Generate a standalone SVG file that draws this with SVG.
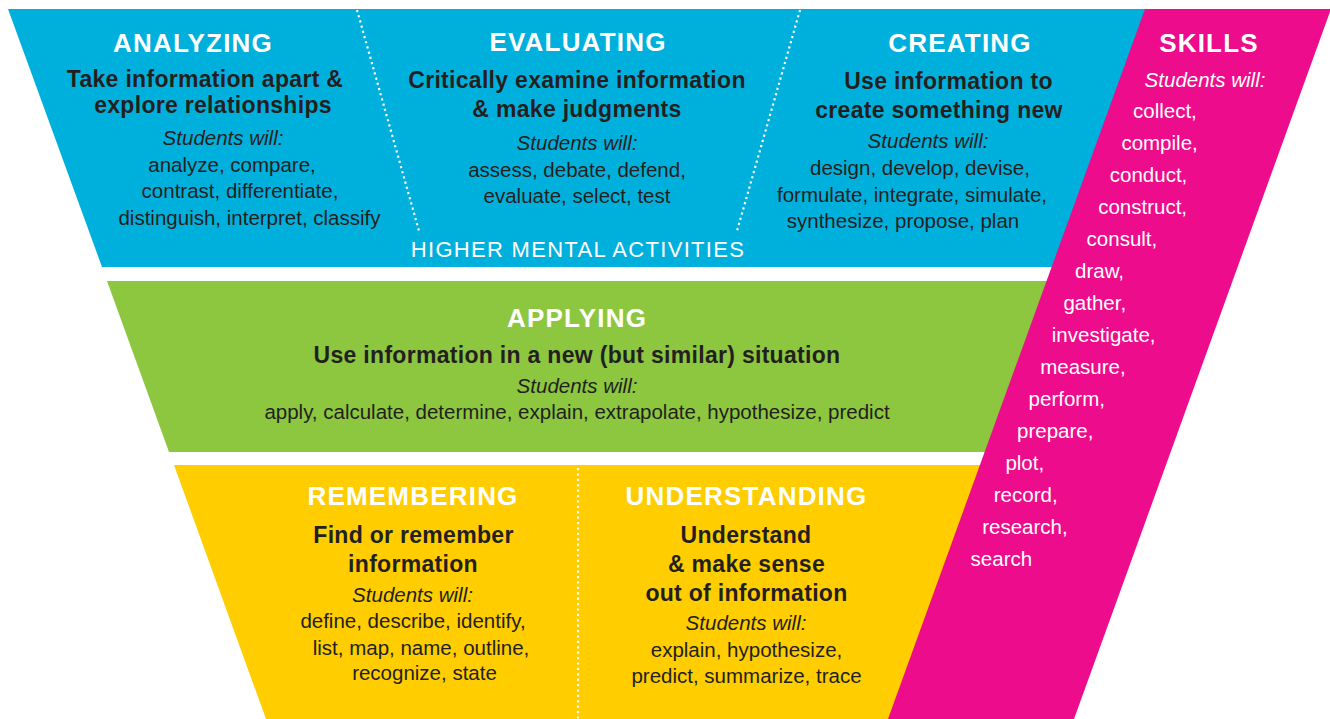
<svg xmlns="http://www.w3.org/2000/svg" width="1330" height="719" viewBox="0 0 1330 719">
<style>
text{font-family:"Liberation Sans",Arial,Helvetica,sans-serif;text-anchor:middle}
.h{font-weight:bold;font-size:26px;fill:#ffffff;letter-spacing:1.2px}
.s{font-weight:bold;font-size:23px;fill:#231f20;letter-spacing:0.3px}
.i{font-style:italic;font-size:20.5px;fill:#231f20}
.r{font-size:20.5px;fill:#231f20}
.wi{font-style:italic;font-size:20.5px;fill:#ffffff}
.sk{font-size:20.5px;fill:#ffffff;text-anchor:start}
.hm{font-size:22px;fill:#ffffff;letter-spacing:1.3px}
.dot{fill:none;stroke:#ffffff;stroke-width:2.2;stroke-dasharray:2.2 3.2}
</style>
<rect width="1330" height="719" fill="#ffffff"/>
<g id="higher-mental-activities">
<polygon points="8,9 1148,9 1054,267 102,267" fill="#00b0dc"/>
<g id="analyzing">
<text class="h" x="193" y="52">ANALYZING</text>
<text class="s" x="205" y="87">Take information apart &amp;</text>
<text class="s" x="213" y="113">explore relationships</text>
<text class="i" x="223" y="145">Students will:</text>
<text class="r" x="232" y="172">analyze, compare,</text>
<text class="r" x="240" y="198">contrast, differentiate,</text>
<text class="r" x="249.5" y="225">distinguish, interpret, classify</text>
</g>
<g id="evaluating">
<text class="h" x="578" y="51">EVALUATING</text>
<text class="s" x="577" y="88">Critically examine information</text>
<text class="s" x="577" y="117">&amp; make judgments</text>
<text class="i" x="577" y="150">Students will:</text>
<text class="r" x="577" y="177">assess, debate, defend,</text>
<text class="r" x="577" y="203">evaluate, select, test</text>
</g>
<g id="creating">
<text class="h" x="960" y="52">CREATING</text>
<text class="s" x="948.5" y="89">Use information to</text>
<text class="s" x="939" y="118">create something new</text>
<text class="i" x="928" y="148">Students will:</text>
<text class="r" x="920" y="175">design, develop, devise,</text>
<text class="r" x="912" y="202">formulate, integrate, simulate,</text>
<text class="r" x="903" y="228">synthesize, propose, plan</text>
</g>
<text class="hm" x="578" y="257">HIGHER MENTAL ACTIVITIES</text>
</g>
<g id="applying">
<polygon points="107,281 1050,281 988,452 169,452" fill="#8dc63f"/>
<text class="h" x="577" y="327">APPLYING</text>
<text class="s" x="577" y="363">Use information in a new (but similar) situation</text>
<text class="i" x="577" y="393">Students will:</text>
<text class="r" x="577" y="419">apply, calculate, determine, explain, extrapolate, hypothesize, predict</text>
</g>
<g id="lower">
<polygon points="174,465 984,465 892,719 266,719" fill="#ffcd00"/>
<g id="remembering">
<text class="h" x="413" y="505">REMEMBERING</text>
<text class="s" x="413.5" y="543">Find or remember</text>
<text class="s" x="413" y="572">information</text>
<text class="i" x="412.5" y="602">Students will:</text>
<text class="r" x="413" y="628">define, describe, identify,</text>
<text class="r" x="421" y="655">list, map, name, outline,</text>
<text class="r" x="424.5" y="680">recognize, state</text>
</g>
<g id="understanding">
<text class="h" x="746.5" y="505">UNDERSTANDING</text>
<text class="s" x="746" y="543">Understand</text>
<text class="s" x="746.5" y="572">&amp; make sense</text>
<text class="s" x="746.5" y="601">out of information</text>
<text class="i" x="746" y="630">Students will:</text>
<text class="r" x="746.5" y="657">explain, hypothesize,</text>
<text class="r" x="746.5" y="683">predict, summarize, trace</text>
</g>
</g>
<g id="skills">
<polygon points="1145,9 1331,9 1074,719 888,719" fill="#ec0c8c"/>
<text class="h" x="1209" y="52">SKILLS</text>
<text class="wi" x="1205" y="87">Students will:</text>
<text class="sk" x="1133" y="118">collect,</text>
<text class="sk" x="1121.4" y="150">compile,</text>
<text class="sk" x="1109.8" y="182">conduct,</text>
<text class="sk" x="1098.2" y="214">construct,</text>
<text class="sk" x="1086.6" y="246">consult,</text>
<text class="sk" x="1075" y="278">draw,</text>
<text class="sk" x="1063.4" y="310">gather,</text>
<text class="sk" x="1051.8" y="342">investigate,</text>
<text class="sk" x="1040.2" y="374">measure,</text>
<text class="sk" x="1028.6" y="406">perform,</text>
<text class="sk" x="1017" y="438">prepare,</text>
<text class="sk" x="1005.4" y="470">plot,</text>
<text class="sk" x="993.8" y="502">record,</text>
<text class="sk" x="982.2" y="534">research,</text>
<text class="sk" x="970.6" y="566">search</text>
</g>
<g id="connectors">
<line class="dot" x1="357" y1="10" x2="419" y2="231"/>
<line class="dot" x1="800" y1="10" x2="737" y2="231"/>
<line class="dot" x1="578" y1="468" x2="578" y2="719"/>
</g>
</svg>
